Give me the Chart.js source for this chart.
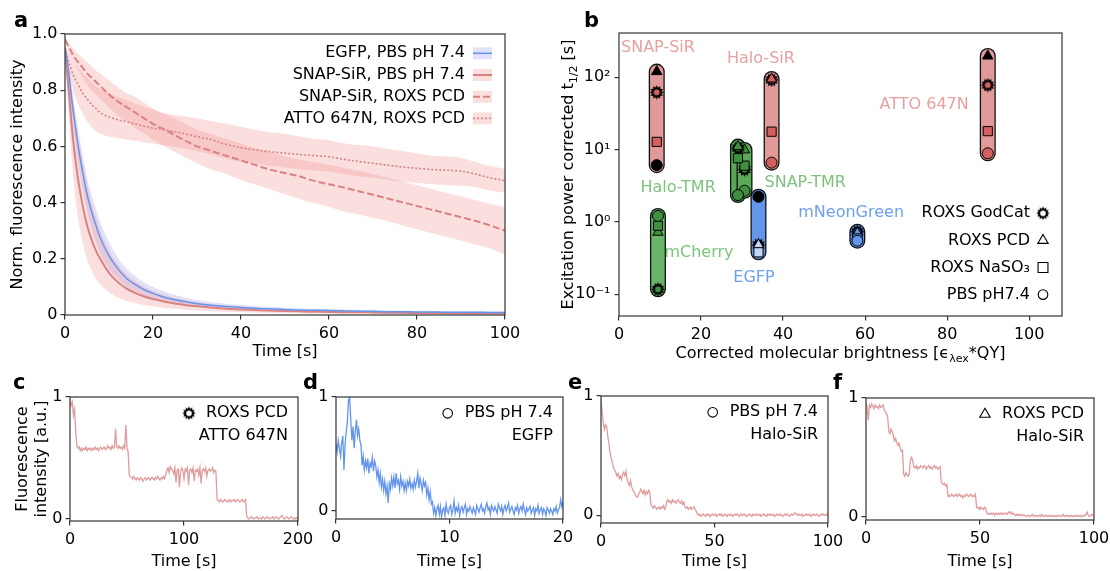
<!DOCTYPE html>
<html>
<head>
<meta charset="utf-8">
<script src="https://cdn.jsdelivr.net/npm/chart.js@4.4.1/dist/chart.umd.min.js"></script>
<style>
html,body{margin:0;padding:0;background:#fff;}
#fig{position:relative;width:1110px;height:571px;overflow:hidden;background:#fff;}
#fig canvas{position:absolute;left:0;top:0;}
.pl{position:absolute;font:bold 21px 'DejaVu Sans',sans-serif;line-height:21px;color:#000;}
</style>
</head>
<body>
<div id="fig">
<canvas id="cA" width="1110" height="571"></canvas>
<canvas id="cB" width="1110" height="571"></canvas>
<canvas id="cC" width="1110" height="571"></canvas>
<canvas id="cD" width="1110" height="571"></canvas>
<canvas id="cE" width="1110" height="571"></canvas>
<canvas id="cF" width="1110" height="571"></canvas>
<div class="pl" style="left:14px;top:10px">a</div>
<div class="pl" style="left:584px;top:10px">b</div>
<div class="pl" style="left:13px;top:372px">c</div>
<div class="pl" style="left:303px;top:372px">d</div>
<div class="pl" style="left:568px;top:372px">e</div>
<div class="pl" style="left:833px;top:372px">f</div>
</div>
<script>
// ================= DATA =================
// ---- Panel a: ensemble bleaching curves ----
const timeA = [0,0.5,1,1.5,2,3,4,5,6,7,8,10,12,14,16,18,20,22,25,28,30,33,36,40,43,46,50,53,56,60,63,66,70,73,76,80,83,86,90,93,96,100];
const egfpMean = [0.95,0.90,0.84,0.77,0.71,0.60,0.51,0.43,0.37,0.32,0.275,0.21,0.165,0.13,0.108,0.09,0.077,0.066,0.054,0.045,0.040,0.035,0.031,0.027,0.024,0.022,0.020,0.018,0.017,0.016,0.015,0.014,0.013,0.012,0.012,0.011,0.011,0.010,0.010,0.010,0.009,0.009];
const egfpHi = [0.96,0.93,0.88,0.82,0.76,0.66,0.57,0.49,0.43,0.38,0.33,0.26,0.205,0.165,0.138,0.116,0.100,0.087,0.071,0.060,0.053,0.046,0.041,0.036,0.032,0.029,0.026,0.024,0.022,0.021,0.020,0.019,0.018,0.017,0.016,0.015,0.015,0.014,0.014,0.013,0.013,0.013];
const egfpLo = [0.94,0.87,0.80,0.72,0.66,0.54,0.45,0.37,0.31,0.26,0.22,0.165,0.127,0.100,0.082,0.068,0.058,0.050,0.041,0.034,0.030,0.027,0.024,0.021,0.018,0.016,0.014,0.013,0.012,0.011,0.010,0.009,0.009,0.008,0.008,0.007,0.007,0.006,0.006,0.006,0.005,0.005];
const snapPbsMean = [0.95,0.86,0.77,0.68,0.60,0.48,0.39,0.32,0.27,0.23,0.20,0.15,0.117,0.094,0.078,0.066,0.057,0.050,0.041,0.034,0.031,0.027,0.023,0.020,0.018,0.016,0.014,0.013,0.012,0.011,0.010,0.010,0.009,0.008,0.008,0.007,0.007,0.007,0.006,0.006,0.006,0.006];
const snapPbsHi = [0.96,0.92,0.87,0.81,0.75,0.64,0.55,0.47,0.40,0.35,0.30,0.23,0.18,0.145,0.12,0.10,0.086,0.075,0.062,0.052,0.046,0.040,0.035,0.030,0.027,0.024,0.021,0.019,0.018,0.016,0.015,0.014,0.013,0.012,0.012,0.011,0.011,0.010,0.010,0.009,0.009,0.009];
const snapPbsLo = [0.93,0.80,0.67,0.56,0.47,0.34,0.26,0.20,0.16,0.13,0.11,0.08,0.062,0.050,0.042,0.036,0.031,0.027,0.022,0.018,0.016,0.014,0.012,0.010,0.009,0.008,0.007,0.006,0.005,0.005,0.004,0.004,0.003,0.003,0.003,0.003,0.002,0.002,0.002,0.002,0.002,0.002];
const snapRoxsMean = [0.98,0.965,0.95,0.935,0.92,0.90,0.88,0.86,0.845,0.83,0.815,0.785,0.76,0.74,0.72,0.70,0.68,0.665,0.64,0.615,0.60,0.585,0.57,0.55,0.535,0.52,0.505,0.495,0.48,0.465,0.455,0.443,0.428,0.416,0.404,0.388,0.376,0.364,0.348,0.336,0.322,0.30];
const snapRoxsHi = [0.99,0.975,0.965,0.955,0.945,0.93,0.915,0.90,0.885,0.87,0.86,0.835,0.81,0.79,0.775,0.755,0.735,0.72,0.70,0.675,0.66,0.645,0.63,0.61,0.595,0.583,0.565,0.555,0.545,0.535,0.525,0.515,0.502,0.49,0.478,0.462,0.45,0.438,0.422,0.41,0.398,0.385];
const snapRoxsLo = [0.97,0.95,0.93,0.915,0.90,0.87,0.845,0.82,0.80,0.785,0.77,0.74,0.71,0.69,0.665,0.645,0.625,0.605,0.58,0.555,0.54,0.52,0.505,0.48,0.465,0.45,0.43,0.415,0.40,0.385,0.37,0.36,0.345,0.335,0.322,0.305,0.293,0.28,0.265,0.252,0.24,0.215];
const attoMean = [0.95,0.92,0.895,0.87,0.85,0.82,0.79,0.77,0.75,0.735,0.72,0.705,0.695,0.688,0.68,0.672,0.665,0.66,0.652,0.642,0.635,0.625,0.61,0.595,0.588,0.582,0.576,0.572,0.568,0.563,0.555,0.548,0.54,0.534,0.528,0.522,0.518,0.516,0.512,0.503,0.49,0.478];
const attoHi = [0.96,0.945,0.93,0.915,0.90,0.88,0.86,0.845,0.83,0.815,0.805,0.79,0.775,0.765,0.752,0.74,0.73,0.72,0.712,0.705,0.70,0.69,0.682,0.67,0.66,0.652,0.645,0.636,0.628,0.622,0.612,0.606,0.60,0.592,0.585,0.575,0.568,0.565,0.56,0.546,0.532,0.52];
const attoLo = [0.94,0.90,0.86,0.82,0.79,0.75,0.72,0.69,0.67,0.655,0.645,0.635,0.63,0.625,0.62,0.615,0.61,0.605,0.598,0.59,0.583,0.572,0.56,0.545,0.538,0.532,0.525,0.52,0.515,0.51,0.502,0.495,0.488,0.482,0.475,0.47,0.466,0.463,0.46,0.455,0.445,0.435];
const seriesNamesA = ['EGFP, PBS pH 7.4','SNAP-SiR, PBS pH 7.4','SNAP-SiR, ROXS PCD','ATTO 647N, ROXS PCD'];
const yTicksA = [0,0.2,0.4,0.6,0.8,1.0];

// ---- Panel b: photostability vs brightness ----
const probes = ['SNAP-SiR','Halo-SiR','ATTO 647N','Halo-TMR','SNAP-TMR','mCherry','EGFP','mNeonGreen'];
const brightness = [9.2, 37.2, 89.9, 29.0, 30.6, 9.5, 34.0, 58.1];
const tGodCat = [62, 92, 78, 10.5, 5.3, 0.117, 0.48, 0.73];
const tPCD    = [120, 95, 197, 11.0, 9.9, 0.72, 0.48, 0.70];
const tNaSO3  = [12.8, 17.7, 18.0, 7.6, 6.0, 0.885, 0.38, 0.59];
const tPBS    = [6.1, 6.6, 8.9, 2.35, 2.7, 1.21, 2.23, 0.55];
const conditionNames = ['ROXS GodCat','ROXS PCD','ROXS NaSO\u2083','PBS pH7.4'];
const yTicksB = [0.1, 1, 10, 100];
const yTickLabelsB = ['10\u207B\u00B9','10\u2070','10\u00B9','10\u00B2'];

// ---- Panels c-f: single-molecule traces ----
const traceC = [0.97,0.93,0.96,0.85,0.90,0.72,0.60,0.58,0.59,0.56,
0.58,0.56,0.58,0.57,0.59,0.56,0.58,0.57,0.58,0.56,
0.58,0.57,0.59,0.57,0.58,0.56,0.58,0.59,0.57,0.58,
0.59,0.57,0.58,0.60,0.58,0.59,0.57,0.60,0.58,0.59,
0.74,0.59,0.58,0.60,0.58,0.59,0.57,0.60,0.58,0.77,
0.58,0.55,0.36,0.35,0.34,0.33,0.35,0.33,0.32,0.34,
0.33,0.32,0.34,0.33,0.31,0.33,0.34,0.32,0.33,0.34,
0.32,0.33,0.34,0.33,0.32,0.34,0.33,0.35,0.33,0.32,
0.34,0.33,0.35,0.33,0.36,0.40,0.42,0.38,0.43,0.41,
0.40,0.37,0.42,0.30,0.40,0.41,0.26,0.39,0.42,0.40,
0.33,0.41,0.39,0.42,0.28,0.40,0.41,0.38,0.42,0.31,
0.40,0.39,0.41,0.36,0.42,0.29,0.40,0.41,0.39,0.42,
0.35,0.40,0.41,0.39,0.40,0.42,0.38,0.40,0.39,0.16,
0.15,0.14,0.16,0.15,0.14,0.15,0.16,0.15,0.14,0.15,
0.16,0.14,0.15,0.15,0.16,0.14,0.15,0.16,0.15,0.14,
0.15,0.16,0.14,0.15,0.16,0.02,0.01,0.00,0.01,0.02,
0.01,0.00,0.01,0.01,0.02,0.00,0.01,0.01,0.00,0.02,
0.01,0.00,0.01,0.02,0.01,0.00,0.01,0.01,0.02,0.00,
0.01,0.02,0.01,0.00,0.01,0.02,0.03,0.01,0.00,0.01,
0.02,0.01,0.00,0.01,0.02,0.01,0.00,0.01,0.00,0.01,
0.00];
const dtC = 1;
const traceD = [0.59,0.52,0.62,0.55,0.48,0.60,0.66,0.36,0.58,0.70,
0.78,0.97,1.00,0.80,0.62,0.74,0.55,0.70,0.80,0.66,
0.72,0.62,0.58,0.40,0.48,0.36,0.44,0.38,0.46,0.33,
0.42,0.39,0.47,0.35,0.44,0.40,0.30,0.36,0.25,0.33,
0.21,0.28,0.18,0.26,0.15,0.22,0.07,0.24,0.19,0.29,
0.22,0.30,0.20,0.33,0.24,0.27,0.19,0.30,0.22,0.26,
0.18,0.25,0.18,0.26,0.22,0.28,0.20,0.24,0.19,0.27,
0.21,0.26,0.33,0.20,0.29,0.24,0.18,0.27,0.22,0.25,
0.14,0.20,0.10,0.17,0.06,0.08,-0.02,0.03,-0.04,0.02,
0.05,-0.03,0.04,-0.05,0.01,0.03,-0.04,0.06,0.00,-0.02,
0.03,0.05,-0.03,0.01,0.09,-0.02,0.03,0.00,0.05,-0.04,
0.02,0.04,-0.01,0.03,0.06,-0.03,0.02,0.00,0.04,0.01,
-0.02,0.03,0.00,-0.03,0.05,0.02,-0.01,0.03,0.06,0.00,
0.02,-0.02,0.04,0.07,0.01,0.03,-0.03,0.05,0.02,0.00,
0.04,0.01,-0.02,0.06,0.03,0.00,0.04,-0.03,0.02,0.05,
0.00,0.03,0.07,-0.01,0.02,0.04,0.00,-0.03,0.03,0.01,
0.05,-0.02,0.02,0.04,0.00,0.06,0.01,-0.03,0.03,0.00,
0.02,0.04,-0.02,0.01,0.03,-0.04,0.02,0.00,0.05,-0.02,
0.01,0.03,-0.03,0.02,0.00,-0.04,0.03,0.01,-0.02,0.02,
0.00,-0.03,0.02,0.00,0.04,-0.02,0.01,0.03,0.10,0.04,
0.08];
const dtD = 0.1;
const traceE = [0.98,0.86,0.78,0.72,0.76,0.74,0.66,0.60,0.52,0.48,
0.44,0.40,0.38,0.36,0.33,0.35,0.31,0.33,0.30,0.34,
0.36,0.33,0.37,0.30,0.27,0.25,0.29,0.24,0.21,0.20,
0.18,0.16,0.15,0.17,0.19,0.22,0.20,0.18,0.21,0.17,
0.20,0.18,0.21,0.19,0.09,0.07,0.06,0.08,0.07,0.05,
0.06,0.07,0.05,0.07,0.06,0.08,0.05,0.07,0.12,0.13,
0.11,0.12,0.10,0.13,0.11,0.12,0.10,0.12,0.13,0.11,
0.10,0.12,0.09,0.11,0.07,0.06,0.07,0.05,0.06,0.07,
0.05,0.06,0.07,0.05,0.03,0.01,0.00,0.01,-0.01,0.00,
0.01,0.00,-0.01,0.01,0.00,0.01,-0.01,0.00,0.01,0.00,
0.00,0.01,-0.01,0.00,0.01,0.00,0.01,-0.01,0.00,0.01,
0.00,-0.01,0.01,0.00,0.00,0.01,-0.01,0.00,0.01,0.00,
0.01,0.00,-0.01,0.01,0.00,0.00,0.01,0.00,-0.01,0.00,
0.00,0.01,0.00,-0.01,0.01,0.00,0.00,0.01,0.00,0.00,
0.01,-0.01,0.00,0.01,0.00,0.00,-0.01,0.01,0.00,0.01,
0.00,0.00,0.01,-0.01,0.00,0.01,0.00,0.00,0.01,0.00,
-0.01,0.00,0.01,0.00,0.01,0.00,-0.01,0.00,0.01,0.00,
0.01,0.02,0.01,0.00,0.01,0.00,0.00,0.01,-0.01,0.00,
0.00,0.01,0.00,0.00,0.01,-0.01,0.00,0.01,0.00,0.00,
0.01,0.00,-0.01,0.00,0.01,0.00,0.01,0.00,0.00,0.01,
0.00];
const dtE = 0.5;
const traceF = [0.95,0.93,0.81,0.94,0.92,0.95,0.93,0.91,0.94,0.92,
0.93,0.91,0.94,0.92,0.93,0.94,0.90,0.88,0.87,0.84,
0.72,0.70,0.74,0.72,0.68,0.64,0.66,0.62,0.60,0.62,
0.58,0.55,0.56,0.36,0.34,0.37,0.35,0.34,0.36,0.48,
0.50,0.47,0.42,0.41,0.43,0.40,0.42,0.41,0.43,0.42,
0.41,0.43,0.42,0.40,0.42,0.43,0.41,0.42,0.40,0.42,
0.43,0.41,0.42,0.40,0.41,0.42,0.29,0.28,0.27,0.28,
0.26,0.27,0.17,0.18,0.17,0.19,0.18,0.17,0.18,0.19,
0.17,0.18,0.19,0.17,0.18,0.16,0.18,0.17,0.19,0.18,
0.17,0.18,0.19,0.17,0.18,0.17,0.19,0.08,0.07,0.08,
0.06,0.08,0.07,0.06,0.08,0.07,0.03,0.02,0.03,0.02,
0.03,0.02,0.03,0.01,0.03,0.02,0.03,0.02,0.03,0.02,
0.03,0.02,0.03,0.03,0.02,0.04,0.03,0.04,0.02,0.03,
0.02,0.01,0.02,0.01,0.02,0.01,0.01,0.02,0.01,0.01,
0.01,0.00,0.01,0.01,0.00,0.01,0.02,0.00,0.01,0.01,
0.00,0.01,0.01,0.00,0.02,0.01,0.00,0.01,0.01,0.00,
0.01,0.00,0.01,0.01,0.00,0.01,0.00,0.01,0.00,0.01,
0.01,0.00,0.01,0.02,0.00,0.01,0.01,0.00,0.01,0.00,
0.01,0.00,0.01,0.00,0.01,0.01,0.00,0.01,0.00,0.01,
0.00,0.01,0.01,0.02,0.04,0.01,0.00,0.01,0.02,0.01,
0.01];
const dtF = 0.5;

// ================= STYLE / LAYOUT =================
const FONT = "'DejaVu Sans', sans-serif";
const AX = '#333';
const RED_LINE = '#d98282', BLUE_LINE = '#6495ed', TRACE_RED = '#e19c9c';
const RED_BAND = 'rgba(240,128,128,0.25)', BLUE_BAND = 'rgba(110,110,230,0.2)';
const pillColors = ['#e09a9a','#e09a9a','#e09a9a','#56a656','#5aaa5a','#6ab56a','#6495ed','#6495ed'];
const markColors = ['#d46060','#d46060','#d46060','#3f913f','#3f913f','#3f913f','#c4d5f8','#6495ed'];
const textColors = ['#e8a0a0','#e8a0a0','#e8a0a0','#7dc27d','#7dc27d','#7dc27d','#6e9ff0','#6e9ff0'];
const blackFilled = [[1,3],[],[1],[],[],[],[3],[]];
const labelAnchorB = [[9.5,254],[34.6,179],[74.4,41],[14.4,2.94],[45.4,3.44],[19.5,0.37],[32.9,0.167],[56.6,1.32]];

Chart.defaults.font.family = FONT;
Chart.defaults.font.size = 16;
Chart.defaults.color = '#000';
Chart.defaults.animation = false;
Chart.defaults.events = [];
Chart.defaults.plugins.legend.display = false;
Chart.defaults.plugins.tooltip.enabled = false;

const gridOpt = {drawOnChartArea:false, drawTicks:true, tickLength:4.5, color:AX, lineWidth:1.2};

function makeSun(fill, size) {
  const c = document.createElement('canvas'); c.width = c.height = size;
  const g = c.getContext('2d'); const m = size/2, R = m - 0.3, r = R*0.68, n = 12;
  g.beginPath();
  for (let k = 0; k < 2*n; k++) { const a = k*Math.PI/n; const rr = (k % 2) ? r : R; g.lineTo(m + rr*Math.cos(a), m + rr*Math.sin(a)); }
  g.closePath(); g.fillStyle = '#000'; g.fill();
  g.beginPath(); g.arc(m, m, R*0.42, 0, 2*Math.PI); g.fillStyle = fill; g.fill();
  return c;
}
const sunLegend = makeSun('#fff', 14);

function frame() {
  return {id:'frame', afterDatasetsDraw(chart) {
    const {ctx, chartArea:a} = chart; ctx.save(); ctx.strokeStyle = AX; ctx.lineWidth = 1.2;
    ctx.strokeRect(a.left, a.top, a.right - a.left, a.bottom - a.top); ctx.restore();
  }};
}
function drawMarker(ctx, kind, x, y) {
  ctx.save(); ctx.fillStyle = '#fff'; ctx.strokeStyle = '#000'; ctx.lineWidth = 1.1;
  if (kind === 'sun') ctx.drawImage(sunLegend, x - 7, y - 7);
  else if (kind === 'circle') { ctx.beginPath(); ctx.arc(x, y, 4.8, 0, 2*Math.PI); ctx.fill(); ctx.stroke(); }
  else Chart.helpers.drawPoint(ctx, {pointStyle: kind, radius: kind === 'rect' ? 7 : 6, borderWidth: 1.1, rotation: 0}, x, y);
  ctx.restore();
}
function drawRich(ctx, parts, cx, cy, rot) {
  ctx.save(); ctx.translate(cx, cy); ctx.rotate(rot);
  ctx.textAlign = 'left'; ctx.textBaseline = 'alphabetic'; ctx.fillStyle = '#000';
  let W = 0;
  parts.forEach(p => { ctx.font = (p.sub ? '11px ' : '16px ') + FONT; p.w = ctx.measureText(p.t).width; W += p.w; });
  let x = -W/2;
  parts.forEach(p => { ctx.font = (p.sub ? '11px ' : '16px ') + FONT; ctx.fillText(p.t, x, 5.8 + (p.sub ? 4 : 0)); x += p.w; });
  ctx.restore();
}
function pts(xs, ys) { return ys.map((v, i) => ({x: xs[i], y: v})); }

// ================= PANEL A =================
(function(){
  const L=65, T=34, R=505, B=315, yW=56.6, xH=46.6;
  const seriesA = [
    {mean:egfpMean, lo:egfpLo, hi:egfpHi, color:BLUE_LINE, band:BLUE_BAND, width:1.5, dash:[]},
    {mean:snapPbsMean, lo:snapPbsLo, hi:snapPbsHi, color:RED_LINE, band:RED_BAND, width:2, dash:[]},
    {mean:snapRoxsMean, lo:snapRoxsLo, hi:snapRoxsHi, color:RED_LINE, band:RED_BAND, width:2, dash:[7,3]},
    {mean:attoMean, lo:attoLo, hi:attoHi, color:RED_LINE, band:RED_BAND, width:1.6, dash:[2,2]}
  ];
  const ds = [];
  [1,2,3,0].forEach(k => {
    const s = seriesA[k];
    ds.push({data: pts(timeA, s.lo), borderWidth:0, pointRadius:0, fill:false, order:5, cubicInterpolationMode:'monotone'});
    ds.push({data: pts(timeA, s.hi), borderWidth:0, pointRadius:0, fill:'-1', backgroundColor:s.band, order:5, cubicInterpolationMode:'monotone'});
  });
  seriesA.forEach(s => ds.push({data: pts(timeA, s.mean), borderColor:s.color, borderWidth:s.width, borderDash:s.dash, pointRadius:0, fill:false, order:0, cubicInterpolationMode:'monotone'}));
  new Chart(document.getElementById('cA'), {
    type:'line', data:{datasets:ds},
    options:{responsive:false, devicePixelRatio:1,
      layout:{autoPadding:false, padding:{left:L-yW, top:T, right:1110-R, bottom:571-B-xH}},
      scales:{
        x:{type:'linear', min:0, max:100, ticks:{stepSize:20, padding:5, maxRotation:0, includeBounds:false}, grid:gridOpt, border:{display:false},
           title:{display:true, text:'Time [s]', padding:0}, afterFit:s=>{s.height=xH; s.paddingLeft=s.paddingRight=0;}},
        y:{type:'linear', min:0, max:1, afterBuildTicks:s=>{s.ticks=yTicksA.map(v=>({value:v}));},
           ticks:{padding:3, callback:v=> v===0 ? '0' : v.toFixed(1)}, grid:gridOpt, border:{display:false},
           title:{display:true, text:'Norm. fluorescence intensity', padding:0}, afterFit:s=>{s.width=yW; s.paddingTop=s.paddingBottom=0;}}
      }},
    plugins:[frame(), {id:'legA', afterDraw(chart){
      const {ctx, chartArea:a} = chart; ctx.save();
      seriesA.forEach((s, k) => {
        const y = a.top + 19.3 + k*21.7, hx = a.right - 32, hw = 19;
        ctx.font = '16px ' + FONT; ctx.textAlign = 'right'; ctx.textBaseline = 'middle'; ctx.fillStyle = '#000';
        ctx.fillText(seriesNamesA[k], a.right - 40, y);
        ctx.fillStyle = s.band; ctx.fillRect(hx, y - 6, hw, 12);
        ctx.strokeStyle = s.color; ctx.lineWidth = s.width; ctx.setLineDash(s.dash);
        ctx.beginPath(); ctx.moveTo(hx, y); ctx.lineTo(hx + hw, y); ctx.stroke(); ctx.setLineDash([]);
      });
      ctx.restore();
    }}]
  });
})();

// ================= PANEL B =================
(function(){
  const L=619, T=33, R=1062, B=316;
  const conds = [tGodCat, tPCD, tNaSO3, tPBS];
  const ds = [];
  probes.forEach((p, i) => {
    const vals = conds.map(c => c[i]);
    const lo = Math.min(...vals), hi = Math.max(...vals);
    const seg = [{x:brightness[i], y:lo}, {x:brightness[i], y:hi}];
    ds.push({data:seg, borderColor:'#111', borderWidth:16, borderCapStyle:'round', pointRadius:0, order:1000-2*i});
    ds.push({data:seg, borderColor:pillColors[i], borderWidth:13.4, borderCapStyle:'round', pointRadius:0, order:999-2*i});
    const sun = makeSun(markColors[i], 15);
    ds.push({data: vals.map(v => ({x:brightness[i], y:v})), showLine:false, order:0,
      pointStyle:[sun, 'triangle', 'rect', 'circle'], pointRadius:[7, 6, 6.5, 5.5],
      pointBackgroundColor: vals.map((v, k) => blackFilled[i].includes(k) ? '#000' : markColors[i]),
      pointBorderColor:'#000', pointBorderWidth:1});
  });
  new Chart(document.getElementById('cB'), {
    type:'line', data:{datasets:ds},
    options:{responsive:false, devicePixelRatio:1,
      layout:{autoPadding:false, padding:{left:0, top:T, right:1110-R, bottom:571-B-40}},
      scales:{
        x:{type:'linear', min:0, max:108, afterBuildTicks:s=>{s.ticks=[0,20,40,60,80,100].map(v=>({value:v}));},
           ticks:{padding:5, maxRotation:0}, grid:gridOpt, border:{display:false},
           afterFit:s=>{s.height=40; s.paddingLeft=s.paddingRight=0;}},
        y:{type:'logarithmic', min:0.05, max:410, afterBuildTicks:s=>{s.ticks=yTicksB.map(v=>({value:v}));},
           ticks:{padding:4, callback:(v)=> yTickLabelsB[yTicksB.indexOf(v)] ?? ''}, grid:gridOpt, border:{display:false},
           afterFit:s=>{s.width=L; s.paddingTop=s.paddingBottom=0;}}
      }},
    plugins:[frame(), {id:'overB', afterDraw(chart){
      const {ctx, chartArea:a, scales:{x, y}} = chart; ctx.save();
      ctx.font = '16px ' + FONT; ctx.textAlign = 'center'; ctx.textBaseline = 'middle';
      probes.forEach((p, i) => { ctx.fillStyle = textColors[i]; ctx.fillText(p, x.getPixelForValue(labelAnchorB[i][0]), y.getPixelForValue(labelAnchorB[i][1])); });
      const kinds = ['sun','triangle','rect','circle'];
      conditionNames.forEach((n, k) => {
        const yy = a.top + 180.3 + k*27.1;
        ctx.fillStyle = '#000'; ctx.textAlign = 'right'; ctx.font = '16px ' + FONT;
        ctx.fillText(n, a.right - 32, yy);
        drawMarker(ctx, kinds[k], a.right - 19, yy);
      });
      drawRich(ctx, [{t:'Excitation power corrected t'},{t:'1/2',sub:true},{t:' [s]'}], 567, (a.top + a.bottom)/2, -Math.PI/2);
      drawRich(ctx, [{t:'Corrected molecular brightness [\u03F5'},{t:'\u03BBex',sub:true},{t:'*QY]'}], (a.left + a.right)/2, 352, 0);
      ctx.restore();
    }}]
  });
})();

// ================= PANELS C-F =================
function tracePanel(id, L, T, R, B, xMax, xStep, yMin, vals, dt, color, yTitle, lines, marker) {
  const padL = yTitle ? 13.4 : 0, yW = L - padL;
  new Chart(document.getElementById(id), {
    type:'line',
    data:{datasets:[{data: vals.map((v, i) => ({x: i*dt, y: v})), borderColor:color, borderWidth:1.3, pointRadius:0, tension:0}]},
    options:{responsive:false, devicePixelRatio:1,
      layout:{autoPadding:false, padding:{left:padL, top:T, right:1110-R, bottom:0}},
      scales:{
        x:{type:'linear', min:0, max:xMax, afterBuildTicks:s=>{const t=[]; for(let v=0; v<=xMax; v+=xStep) t.push({value:v}); s.ticks=t;},
           ticks:{padding:5, maxRotation:0, autoSkip:false}, grid:gridOpt, border:{display:false},
           title:{display:true, text:'Time [s]', padding:0}, afterFit:s=>{s.height=571-B; s.paddingLeft=s.paddingRight=0;}},
        y:{type:'linear', min:yMin, max:1, afterBuildTicks:s=>{s.ticks=[{value:0},{value:1}];},
           ticks:{padding:3, callback:v=>String(v)}, grid:gridOpt, border:{display:false},
           title: yTitle ? {display:true, text:yTitle, padding:0} : {display:false},
           afterFit:s=>{s.width=yW; s.paddingTop=s.paddingBottom=0;}}
      }},
    plugins:[frame(), {id:'ann', afterDraw(chart){
      const {ctx, chartArea:a} = chart; ctx.save();
      ctx.font = '16px ' + FONT; ctx.fillStyle = '#000'; ctx.textAlign = 'right'; ctx.textBaseline = 'middle';
      const xr = a.right - 10;
      ctx.fillText(lines[0], xr, a.top + 16.3);
      ctx.fillText(lines[1], xr, a.top + 38.7);
      const w = ctx.measureText(lines[0]).width;
      drawMarker(ctx, marker, xr - w - 17, a.top + 16.3);
      ctx.restore();
    }}]
  });
}
tracePanel('cC', 70, 397, 298, 521, 200, 100, -0.016, traceC, dtC, TRACE_RED, ['Fluorescence','intensity [a.u.]'], ['ROXS PCD','ATTO 647N'], 'sun');
tracePanel('cD', 336, 397, 563, 519, 20, 10, -0.07, traceD, dtD, BLUE_LINE, null, ['PBS pH 7.4','EGFP'], 'circle');
tracePanel('cE', 601, 396, 828, 523, 100, 50, -0.065, traceE, dtE, TRACE_RED, null, ['PBS pH 7.4','Halo-SiR'], 'circle');
tracePanel('cF', 866, 398, 1094, 520, 100, 50, -0.028, traceF, dtF, TRACE_RED, null, ['ROXS PCD','Halo-SiR'], 'triangle');
</script>
</body>
</html>
